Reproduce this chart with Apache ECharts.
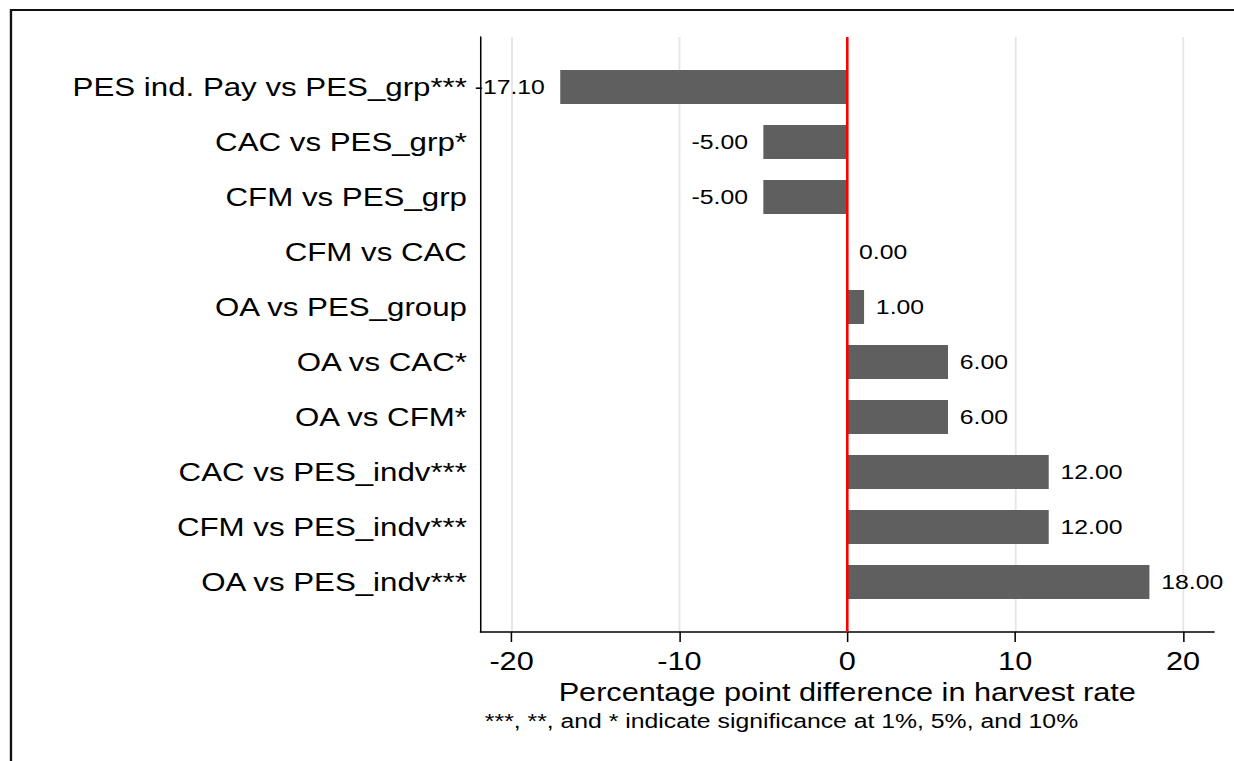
<!DOCTYPE html>
<html>
<head>
<meta charset="utf-8">
<title>Harvest rate differences</title>
<script src="https://cdn.jsdelivr.net/npm/echarts@6/dist/echarts.min.js"></script>
<style>
  html, body { margin: 0; padding: 0; background: #fff; overflow: hidden; }
  /* The graph is laid out on a 1046px-wide page and widened to fill 1234px. */
  #chart { width: 1046px; height: 761px; transform: scaleX(1.17973); transform-origin: 0 0; }
</style>
</head>
<body>
<div id="chart"></div>
<script>
// Pairwise comparisons, top to bottom
const categories = [
  'PES ind. Pay vs PES_grp***',
  'CAC vs PES_grp*',
  'CFM vs PES_grp',
  'CFM vs CAC',
  'OA vs PES_group',
  'OA vs CAC*',
  'OA vs CFM*',
  'CAC vs PES_indv***',
  'CFM vs PES_indv***',
  'OA vs PES_indv***'
];
// Percentage point differences
const differences = [-17.10, -5.00, -5.00, 0.00, 1.00, 6.00, 6.00, 12.00, 12.00, 18.00];
const xTicks = [-20, -10, 0, 10, 20];
const xRange = [-21.85, 21.85];
const referenceValue = 0;
const xTitle = 'Percentage point difference in harvest rate';
const footnote = '***, **, and * indicate significance at 1%, 5%, and 10%';

const FONT = '"Liberation Sans", Arial, Helvetica, sans-serif';
const chart = echarts.init(document.getElementById('chart'), null, { renderer: 'svg' });

const barData = differences.map(v => ({
  value: v,
  label: v < 0 ? { position: 'left', distance: 13 } : { position: 'right', distance: 10 }
}));

const option = {
  animation: false,
  backgroundColor: '#ffffff',
  grid: [
    { left: 407.3, right: 16.9, top: 37, bottom: 129, containLabel: false },
    { left: 407.3, right: 16.9, top: 59.5, bottom: 151.5, containLabel: false }
  ],
  xAxis: [
    {
      gridIndex: 0, type: 'value', min: xRange[0], max: xRange[1],
      axisLine: { show: true, onZero: false, lineStyle: { color: '#000', width: 1.5 } },
      axisTick: { show: true, customValues: xTicks, length: 10, lineStyle: { color: '#000', width: 1.3 } },
      axisLabel: { customValues: xTicks, fontSize: 26, color: '#000', margin: 16, fontFamily: FONT },
      splitLine: { show: true, lineStyle: { color: '#e6e6e6', width: 1.6 } },
      name: xTitle, nameLocation: 'middle', nameGap: 42,
      nameTextStyle: { fontSize: 26, color: '#000', fontFamily: FONT }
    },
    { gridIndex: 1, type: 'value', min: xRange[0], max: xRange[1], show: false }
  ],
  yAxis: [
    {
      gridIndex: 0, type: 'value', min: 0, max: 1,
      axisLine: { show: true, onZero: false, lineStyle: { color: '#000', width: 1.3 } },
      axisTick: { show: false }, axisLabel: { show: false }, splitLine: { show: false }
    },
    {
      gridIndex: 1, type: 'category', inverse: true, data: categories,
      axisLine: { show: false }, axisTick: { show: false },
      axisLabel: { fontSize: 26.5, color: '#000', margin: 11.5, fontFamily: FONT }
    }
  ],
  series: [
    {
      type: 'bar', xAxisIndex: 1, yAxisIndex: 1,
      data: barData, barWidth: 34,
      itemStyle: { color: '#5f5f5f' },
      label: {
        show: true, fontSize: 21, color: '#000', fontFamily: FONT,
        formatter: p => p.value.toFixed(2)
      },
      z: 2
    },
    {
      type: 'line', xAxisIndex: 0, yAxisIndex: 0,
      data: [[referenceValue, 0], [referenceValue, 1]],
      symbol: 'none', lineStyle: { color: '#ff0000', width: 2.2 },
      silent: true, z: 5
    }
  ],
  graphic: [
    {
      type: 'polyline', silent: true, z: 10,
      shape: { points: [[1060, 10], [9.3, 10], [9.3, 770]] },
      style: { stroke: '#111', lineWidth: 2, fill: null }
    },
    {
      type: 'text', silent: true, z: 10,
      x: 411, y: 721,
      style: { text: footnote, fontSize: 21, fill: '#000', font: '21px ' + FONT, verticalAlign: 'middle', align: 'left' }
    }
  ]
};

chart.setOption(option);
</script>
</body>
</html>
